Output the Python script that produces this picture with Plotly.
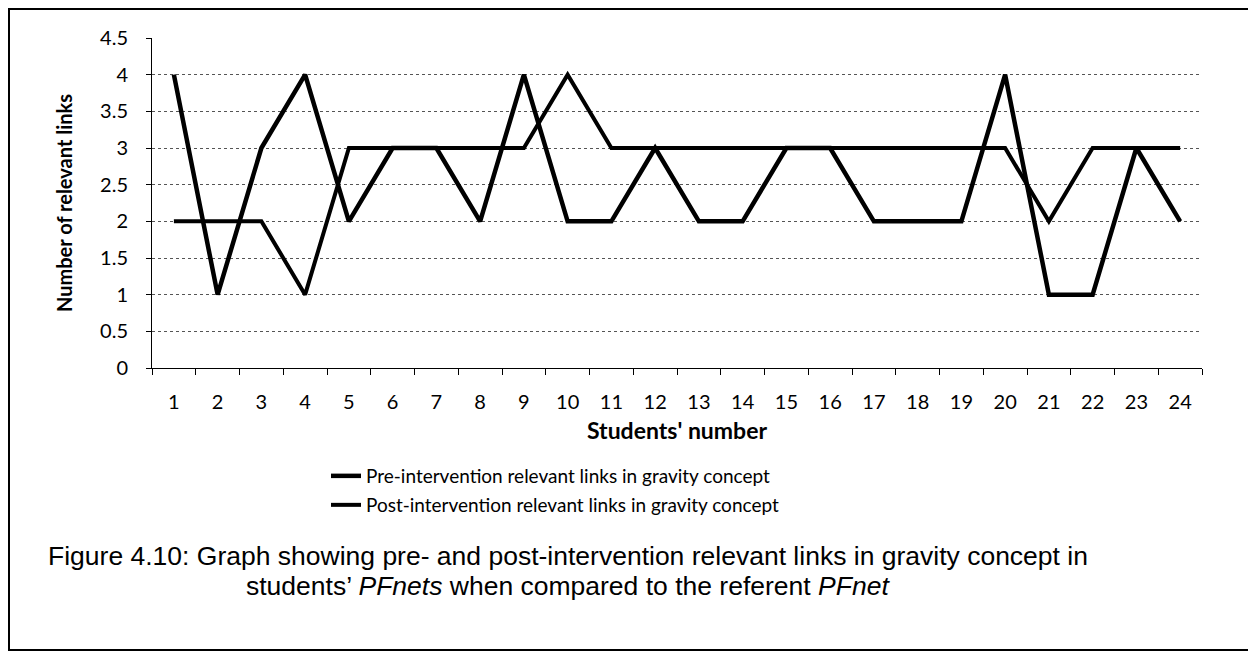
import plotly.graph_objects as go

students = [str(i) for i in range(1, 25)]
pre_links = [4, 1, 3, 4, 2, 3, 3, 2, 4, 2, 2, 3, 2, 2, 3, 3, 2, 2, 2, 4, 1, 1, 3, 2]
post_links = [2, 2, 2, 1, 3, 3, 3, 3, 3, 4, 3, 3, 3, 3, 3, 3, 3, 3, 3, 3, 2, 3, 3, 3]
y_ticks = [0, 0.5, 1, 1.5, 2, 2.5, 3, 3.5, 4, 4.5]
y_labels = ["0", "0.5", "1", "1.5", "2", "2.5", "3", "3.5", "4", "4.5"]

OFF = 8  # page body margin
W, H = 1248, 646
L, R, T, B = 144, 54, 30, 286
PW, PH = W - L - R, H - T - B

def px(s):
    return (s - OFF - L) / PW

def py(s):
    return (H - B - (s - OFF)) / PH

fig = go.Figure()
fig.add_trace(go.Scatter(x=students, y=pre_links, mode="lines",
                         name="Pre-intervention relevant links in gravity concept",
                         line=dict(color="black", width=4.5), legend="legend"))
fig.add_trace(go.Scatter(x=students, y=post_links, mode="lines",
                         name="Post-intervention relevant links in gravity concept",
                         line=dict(color="black", width=4), legend="legend2"))

font_main = "Lato, 'Open Sans', sans-serif"
leg_common = dict(xanchor="left", yanchor="middle", bgcolor="rgba(0,0,0,0)",
                  itemwidth=30, font=dict(size=19, family=font_main, color="black"))

fig.update_layout(
    width=W, height=H,
    margin=dict(l=L, r=R, t=T, b=B),
    paper_bgcolor="white", plot_bgcolor="white",
    font=dict(family=font_main, color="black", size=19),
    showlegend=True,
    legend=dict(x=px(326), y=py(476), **leg_common),
    legend2=dict(x=px(326), y=py(505), **leg_common),
    xaxis=dict(type="category", range=[-0.5, 23.5], tickson="boundaries",
               ticks="outside", ticklen=6,
               tickcolor="black", showline=True, linecolor="black", linewidth=1,
               showgrid=False, ticklabelstandoff=16,
               tickfont=dict(size=20),
               title=dict(text="<b>Students' number</b>", font=dict(size=23), standoff=10)),
    yaxis=dict(range=[0, 4.5], tickvals=y_ticks, ticktext=y_labels, ticks="outside",
               ticklen=5, tickcolor="black", showline=True, linecolor="black", linewidth=1,
               showgrid=True, gridcolor="#555", griddash="dot", gridwidth=1,
               zeroline=False, ticklabelstandoff=14, tickfont=dict(size=20),
               title=dict(text="<b>Number of relevant links</b>", font=dict(size=20), standoff=22)),
    shapes=[dict(type="rect", xref="paper", yref="paper",
                 x0=px(9), x1=px(1251), y0=py(650), y1=py(9),
                 line=dict(color="black", width=2), layer="below")],
    annotations=[
        dict(text="Figure 4.10: Graph showing pre- and post-intervention relevant links in gravity concept in",
             xref="paper", yref="paper", x=px(568), y=py(556), showarrow=False,
             xanchor="center", yanchor="middle",
             font=dict(family="'Liberation Sans', Arial, sans-serif", size=26.5, color="black")),
        dict(text="students’ <i>PFnets</i> when compared to the referent <i>PFnet</i>",
             xref="paper", yref="paper", x=px(568), y=py(586), showarrow=False,
             xanchor="center", yanchor="middle",
             font=dict(family="'Liberation Sans', Arial, sans-serif", size=26.5, color="black")),
    ],
)

fig.write_html("out.html")
